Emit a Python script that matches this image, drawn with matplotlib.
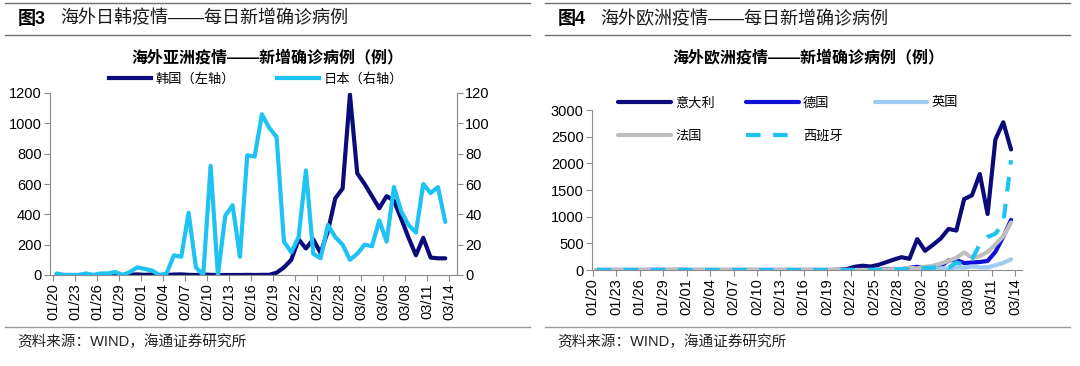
import matplotlib

matplotlib.use("Agg")
import matplotlib.pyplot as plt  # noqa: E402
from matplotlib.lines import Line2D  # noqa: E402
import pandas as pd  # noqa: E402

plt.rcParams["font.family"] = ["Liberation Sans", "Noto Sans CJK SC"]

# daily points 01/20 .. 03/13, axis labels every 3 days up to 03/14
dates = pd.date_range("2020-01-20", "2020-03-14").strftime("%m/%d").tolist()
tick_labels = dates[::3]

korea = [1, 0, 0, 0, 1, 0, 1, 1, 0, 0, 2, 4, 1, 3, 0, 0, 3, 4, 1, 0,
         3, 1, 0, 0, 0, 0, 1, 0, 1, 1, 15, 50, 100, 235, 175, 235, 145, 290, 505, 570,
         1190, 670, 600, 520, 440, 520, 490, 370, 245, 130, 245, 115, 110, 110]
japan = [1, 0, 0, 0, 1, 0, 1, 1, 2, 0, 2, 5, 4, 3, 0, 1, 13, 12, 41, 5,
         0, 72, 0, 39, 46, 12, 79, 78, 106, 97, 91, 22, 15, 25, 69, 14, 11, 33, 25, 20,
         10, 14, 20, 19, 36, 22, 58, 42, 33, 28, 60, 54, 58, 35]

italy = [0] * 11 + [2] + [0] * 6 + [1] + [0] * 12 + [
    3, 17, 60, 80, 65, 95, 145, 195, 240, 210, 580, 360, 470, 590, 770, 740,
    1330, 1400, 1800, 1050, 2450, 2770, 2260]
germany = [0] * 7 + [1, 3, 0, 1, 1] + [0] * 24 + [
    2, 10, 20, 10, 40, 60, 30, 50, 70, 180, 190, 130, 140, 150, 170, 340, 620, 940]
uk = [0] * 11 + [2] + [0] * 8 + [1] + [0] * 18 + [
    3, 3, 12, 4, 11, 34, 30, 48, 43, 67, 48, 50, 87, 134, 200]
france = [0] * 4 + [3, 0, 0, 0, 0, 1, 0, 1] + [0] * 24 + [
    2, 4, 20, 20, 43, 30, 60, 80, 120, 170, 230, 330, 230, 260, 340, 480, 630, 890]
spain = [0] * 20 + [1] + [0] * 15 + [
    5, 2, 10, 17, 13, 39, 36, 45, 57, 37, 140, 100, 200, 480, 620, 680, 880, 2060]

x = [i + 0.5 for i in range(len(korea))]

W, H = 1080, 366
fig = plt.figure(figsize=(W / 100, H / 100), dpi=100)


def fx(px):
    return px / W


def fy(py):
    return 1 - py / H


# frame rules and captions for both panels
for x0, x1, cap in [(5, 530, "海外日韩疫情——每日新增确诊病例"),
                    (545, 1070, "海外欧洲疫情——每日新增确诊病例")]:
    for y in (3, 35):
        fig.add_artist(Line2D([fx(x0), fx(x1)], [fy(y), fy(y)], color="#6e6e6e", lw=1))
    fig.add_artist(Line2D([fx(x0), fx(x1)], [fy(327), fy(327)], color="#9a9a9a", lw=1))
    fig.text(fx(x0 + 55), fy(19), cap, fontsize=13, va="center", color="#1a1a1a")
    fig.text(fx(x0 + 12), fy(342), "资料来源：WIND，海通证券研究所", fontsize=10.5,
             va="center", color="#222222")
fig.text(fx(18), fy(19), "图3", fontsize=13, fontweight="bold", va="center")
fig.text(fx(558), fy(19), "图4", fontsize=13, fontweight="bold", va="center")

AX_C = "#8c8c8c"


def style(ax, right=False):
    ax.spines["top"].set_visible(False)
    for s in ("left", "bottom", "right"):
        ax.spines[s].set_color(AX_C)
        ax.spines[s].set_linewidth(0.8)
    if not right:
        ax.spines["right"].set_visible(False)
    ax.tick_params(direction="out", length=4, width=0.8, color=AX_C, labelsize=10.5,
                   pad=2)
    ax.tick_params(axis="x", labelsize=10.5)


# ---- left: Korea / Japan
ax1 = fig.add_axes([fx(50), fy(275), (457 - 50) / W, (275 - 93) / H])
ax1.plot(x, korea, color="#0b0b7a", lw=3, solid_joinstyle="round", solid_capstyle="round")
ax1.set_ylim(0, 1200)
ax1.set_yticks(range(0, 1201, 200))
ax1.set_xlim(-0.4, 55.1)
ax1.set_xticks(range(0, 55, 3))
ax1.set_xticklabels(tick_labels, rotation=90)
style(ax1, right=True)
ax2 = ax1.twinx()
ax2.plot(x, japan, color="#1fc3f3", lw=3, solid_joinstyle="round", solid_capstyle="round")
ax2.set_ylim(0, 120)
ax2.set_yticks(range(0, 121, 20))
style(ax2, right=True)
ax2.spines["left"].set_visible(False)
ax2.spines["bottom"].set_visible(False)

fig.text(fx(267), fy(57), "海外亚洲疫情——新增确诊病例（例）", fontsize=11.5,
         fontweight="bold", ha="center", va="center")
fig.legend([Line2D([], [], color="#0b0b7a", lw=3), Line2D([], [], color="#1fc3f3", lw=3)],
           ["韩国（左轴）", "日本（右轴）"], loc="center", bbox_to_anchor=(fx(256), fy(79)),
           ncol=2, frameon=False, fontsize=9.5, handlelength=3.2, handletextpad=0.3,
           columnspacing=3.2, borderpad=0)

# ---- right: Europe
ax3 = fig.add_axes([fx(592), fy(270), 430 / W, 160 / H])
series = [
    ("意大利", italy, "#0b0b7a", "-"),
    ("德国", germany, "#1010d8", "-"),
    ("英国", uk, "#9dcbf2", "-"),
    ("法国", france, "#bfbfbf", "-"),
    ("西班牙", spain, "#1fc3f3", "--"),
]
handles = {}
for name, vals, col, ls in series:
    (ln,) = ax3.plot(x, vals, color=col, lw=3, ls=ls, solid_joinstyle="round",
                     solid_capstyle="round", dashes=(3.5, 3) if ls == "--" else (None, None))
    handles[name] = ln
ax3.set_ylim(0, 3000)
ax3.set_yticks(range(0, 3001, 500))
ax3.set_xlim(-0.1, 54.9)
ax3.set_xticks(range(0, 55, 3))
ax3.set_xticklabels(tick_labels, rotation=90)
style(ax3)

fig.text(fx(808), fy(57), "海外欧洲疫情——新增确诊病例（例）", fontsize=11.5,
         fontweight="bold", ha="center", va="center")
order = ["意大利", "法国", "德国", "西班牙", "英国"]
ax3.legend([handles[n] for n in order], order, loc="center",
           bbox_to_anchor=(fx(788), fy(120)), bbox_transform=fig.transFigure,
           ncol=3, frameon=False, fontsize=9.5, handlelength=4, handletextpad=0.3,
           columnspacing=2.4, labelspacing=1.6, borderpad=0)

fig.savefig("out.png", dpi=100)
